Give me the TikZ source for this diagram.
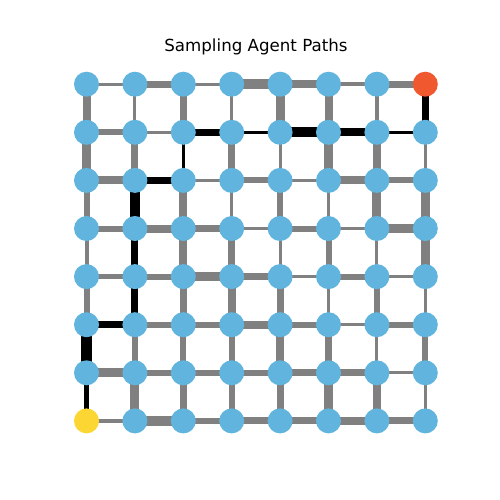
\documentclass[tikz,border=0pt]{standalone}
\usepackage{fontspec}
\setmainfont{DejaVu Sans}
\usetikzlibrary{backgrounds}
\definecolor{nodeblue}{RGB}{97,180,221}
\definecolor{goalorange}{RGB}{240,88,48}
\definecolor{startyellow}{RGB}{252,215,52}
\definecolor{edgegray}{RGB}{128,128,128}
\begin{document}
\begin{tikzpicture}[x=0.72pt,y=-0.72pt,
  vtx/.style={circle,fill=nodeblue,inner sep=0pt,minimum size=18pt},
  nd07/.style={fill=startyellow},
  nd70/.style={fill=goalorange},
  gedge/.style={draw=edgegray,line width=#1*0.72pt},
  pedge/.style={draw=black,line width=#1*0.72pt}]
\useasboundingbox (0,0) rectangle (500,500);
\node[anchor=base,font=\fontsize{12}{14}\selectfont] (title) at (256,51.7) {Sampling Agent Paths};
\foreach \i in {0,...,7}{
  \foreach \j in {0,...,7}{
    \node[vtx,nd\i\j/.try] (n\i\j) at ({86.5+48.4*\i},{84.2+48.1*\j}) {};
  }
}
\begin{pgfonlayer}{background}
% horizontal gray edges, row j, between column i and i+1 (0 = path edge)
\foreach \j/\wl in {0/{3,7,3,10,8,4.5,7},
                    1/{6,3,0,0,0,0,0},
                    2/{8,0,3,6,3,8,6},
                    3/{6,8,7,3,6,3,9},
                    4/{5,6,9,7,3,6,3},
                    5/{0,6,6,8,6,3,6},
                    6/{9,6,6,6,7,7,3},
                    7/{4,10,6,7,7,8,7}}{
  \foreach \w [count=\i from 0] in \wl {
    \pgfmathtruncatemacro\ii{\i+1}
    \ifdim \w pt>0pt \draw[gedge=\w] (n\i\j.center) -- (n\ii\j.center); \fi
  }
}
% vertical gray edges, between row j and j+1, column i
\foreach \j/\wl in {0/{8,3,7,3,9,8,4,0},
                    1/{9,7,0,7,3,9,8,3.5},
                    2/{6,0,8,3,6,3,9,9},
                    3/{4,0,8,7,3,6,3,9},
                    4/{6,0,7,8,7,3,6,3},
                    5/{0,6,6,6,8,7,3,6},
                    6/{0,9,7,6,7,9,8,3}}{
  \foreach \w [count=\i from 0] in \wl {
    \pgfmathtruncatemacro\jj{\j+1}
    \ifdim \w pt>0pt \draw[gedge=\w] (n\i\j.center) -- (n\i\jj.center); \fi
  }
}
% sampled path
\draw[pedge=5] (n07.center) -- (n06.center);
\draw[pedge=11] (n06.center) -- (n05.center);
\draw[pedge=7] (n05.center) -- (n15.center);
\draw[pedge=7] (n15.center) -- (n14.center);
\draw[pedge=7] (n14.center) -- (n13.center);
\draw[pedge=10] (n13.center) -- (n12.center);
\draw[pedge=7] (n12.center) -- (n22.center);
\draw[pedge=2.5] (n22.center) -- (n21.center);
\draw[pedge=7] (n21.center) -- (n31.center);
\draw[pedge=3] (n31.center) -- (n41.center);
\draw[pedge=10] (n41.center) -- (n51.center);
\draw[pedge=8] (n51.center) -- (n61.center);
\draw[pedge=3.5] (n61.center) -- (n71.center);
\draw[pedge=7] (n71.center) -- (n70.center);
\end{pgfonlayer}
\end{tikzpicture}
\end{document}
